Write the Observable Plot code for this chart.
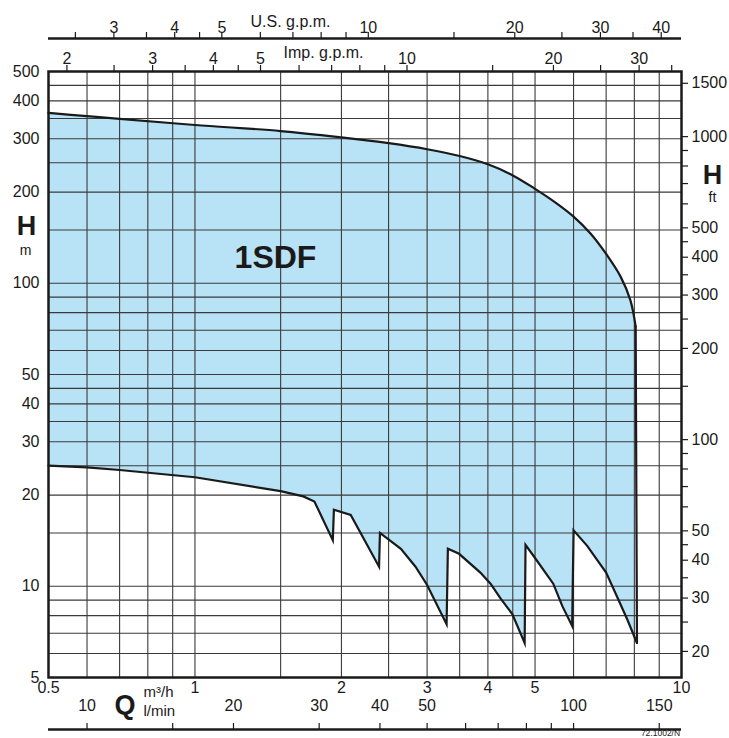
<!DOCTYPE html>
<html>
<head>
<meta charset="utf-8">
<script src="https://cdn.jsdelivr.net/npm/d3@7"></script>
<script src="https://cdn.jsdelivr.net/npm/@observablehq/plot@0.6"></script>
<style>
  html, body { margin: 0; padding: 0; background: #fff; }
  #chart { width: 729px; height: 738px; overflow: hidden; }
</style>
</head>
<body>
<div id="chart"></div>
<script>
// ---- Data ----
// Upper limit curve of the 1SDF range (Q in m³/h, H in m)
const upperQ = [0.5, 0.6, 0.7, 1.0, 1.5, 2.0, 2.5, 3.0, 3.5, 4.0, 4.5, 5.0, 5.5, 6.0, 6.5, 7.0, 7.5, 7.85, 8.05];
const upperH = [365, 356, 349, 333, 318, 303, 290, 277, 263, 247, 227, 205, 185, 166, 146, 125, 105, 88, 72];
// Lower limit (sawtooth) curve, left to right
const lowerQ = [0.5, 0.6, 0.7, 1.0, 1.5, 1.67, 1.76, 1.92, 1.93, 2.09, 2.39, 2.40, 2.65, 2.84, 3.0, 3.29, 3.31, 3.49, 3.86, 4.05, 4.25, 4.49, 4.76, 4.78, 5.0, 5.45, 5.69, 5.96, 6.0, 6.4, 7.0, 7.38, 7.73, 8.1];
const lowerH = [25.0, 24.7, 24.2, 22.9, 20.6, 19.8, 19.05, 14.2, 17.9, 17.2, 11.6, 15.0, 13.3, 11.6, 10.1, 7.5, 13.3, 12.8, 11.1, 10.2, 9.1, 8.1, 6.5, 13.7, 12.4, 10.2, 8.6, 7.4, 15.3, 13.6, 11.1, 9.2, 7.8, 6.5];

// Axis ticks / grid
const qLabels = [0.5, 1, 2, 3, 4, 5, 10];
const qGrid = [0.6, 0.7, 0.8, 0.9, 1, 1.5, 2, 2.5, 3, 3.5, 4, 4.5, 5, 6, 7, 8, 9];
const hGrid = [6, 7, 8, 9, 10, 15, 20, 25, 30, 35, 40, 45, 50, 60, 70, 80, 90, 100, 150, 200, 250, 300, 350, 400, 450];
const hLabels = [5, 10, 20, 30, 40, 50, 100, 200, 300, 400, 500];
const ftTicks = [20, 25, 30, 35, 40, 45, 50, 60, 70, 80, 90, 100, 150, 200, 250, 300, 350, 400, 450, 500, 600, 700, 800, 900, 1000, 1500];
const ftLabels = [20, 30, 40, 50, 100, 200, 300, 400, 500, 1000, 1500];
const usTicks = [2.5, 3, 3.5, 4, 4.5, 5, 6, 7, 8, 9, 10, 15, 20, 25, 30, 35, 40];
const usLabels = [3, 4, 5, 10, 20, 30, 40];
const impTicks = [2, 2.5, 3, 3.5, 4, 4.5, 5, 6, 7, 8, 9, 10, 15, 20, 25, 30, 35];
const impLabels = [2, 3, 4, 5, 10, 20, 30];
const lminTicks = [10, 15, 20, 30, 40, 50, 60, 70, 80, 90, 100, 150];
const lminLabels = [10, 20, 30, 40, 50, 100, 150];

// Unit conversions
const US_GPM_PER_M3H = 4.40287;
const IMP_GPM_PER_M3H = 3.66615;
const LMIN_PER_M3H = 1000 / 60;
const FT_PER_M = 3.28084;

const upper = upperQ.map((q, i) => ({q, h: upperH[i]}));
const lower = lowerQ.map((q, i) => ({q, h: lowerH[i]}));
const rightEdge = [lower[lower.length - 1], upper[upper.length - 1]];

const W = 729, H = 738;
const mL = 48, mR = 48, mT = 71, mB = 61;
const font = "'Liberation Sans', Arial, Helvetica, sans-serif";
const ink = "#1a1a1a";
const blue = "#b8e3f7";
const FS = 16;

function label(str, px, py, opts = {}) {
  return Plot.text([str], {
    frameAnchor: "top-left", dx: px - mL, dy: py - mT,
    textAnchor: "middle", lineAnchor: "middle",
    text: d => d, fontSize: FS, fill: ink, ...opts
  });
}

const chart = Plot.plot({
  width: W, height: H,
  marginLeft: mL, marginRight: mR, marginTop: mT, marginBottom: mB,
  style: {fontFamily: font, background: "#fff", color: ink},
  x: {type: "log", domain: [0.5, 10], axis: null},
  y: {type: "log", domain: [5, 500], axis: null},
  marks: [
    // filled operating range: blue under the upper curve, white under the lower curve
    Plot.areaY(upper, {x: "q", y1: 5, y2: "h", fill: blue, curve: "catmull-rom"}),
    Plot.areaY(lower, {x: "q", y1: 5, y2: "h", fill: "#fff", curve: "linear"}),
    // grid
    Plot.ruleX(qGrid, {x: d => d, stroke: "#3a3a3a", strokeWidth: 1.1}),
    Plot.ruleY(hGrid, {y: d => d, stroke: "#3a3a3a", strokeWidth: 1.1}),
    // curve outlines
    Plot.line(upper, {x: "q", y: "h", stroke: ink, strokeWidth: 2.2, curve: "catmull-rom"}),
    Plot.line(lower, {x: "q", y: "h", stroke: ink, strokeWidth: 2.2, curve: "linear",
      strokeLinejoin: "miter", strokeMiterlimit: 6}),
    Plot.line(rightEdge, {x: "q", y: "h", stroke: ink, strokeWidth: 2.2}),
    // frame
    Plot.frame({stroke: ink, strokeWidth: 2.5}),

    // bottom m³/h labels
    Plot.text(qLabels, {x: d => d, frameAnchor: "bottom", dy: 15, text: d => String(d), fontSize: FS, fill: ink}),
    // left H (m) labels
    Plot.text(hLabels, {y: d => d, frameAnchor: "left", dx: -9, textAnchor: "end", text: d => String(d), fontSize: FS, fill: ink}),
    // right H (ft) ticks and labels
    Plot.ruleY(ftTicks, {y: d => d / FT_PER_M, insetLeft: 633, insetRight: -7, stroke: ink, strokeWidth: 1.2}),
    Plot.text(ftLabels, {y: d => d / FT_PER_M, frameAnchor: "right", dx: 10, textAnchor: "start", text: d => String(d), fontSize: FS, fill: ink}),

    // Imp. g.p.m. axis on frame top
    Plot.ruleX(impTicks, {x: d => d / IMP_GPM_PER_M3H, insetTop: -6, insetBottom: 606, stroke: ink, strokeWidth: 1.2}),
    Plot.text(impLabels, {x: d => d / IMP_GPM_PER_M3H, frameAnchor: "top", dy: -19, text: d => String(d), fontSize: FS, fill: ink}),
    // U.S. g.p.m. axis above
    Plot.ruleY([500], {y: d => d, dy: -33, stroke: ink, strokeWidth: 2.5}),
    Plot.ruleX(usTicks, {x: d => d / US_GPM_PER_M3H, insetTop: -39, insetBottom: 639, stroke: ink, strokeWidth: 1.2}),
    Plot.text(usLabels, {x: d => d / US_GPM_PER_M3H, frameAnchor: "top", dy: -50, text: d => String(d), fontSize: FS, fill: ink}),

    // l/min axis below
    Plot.ruleY([5], {y: d => d, dy: 52, stroke: ink, strokeWidth: 2.5}),
    Plot.ruleX(lminTicks, {x: d => d / LMIN_PER_M3H, insetTop: 652, insetBottom: -52, stroke: ink, strokeWidth: 1.2}),
    Plot.text(lminLabels, {x: d => d / LMIN_PER_M3H, frameAnchor: "bottom", dy: 33.5, text: d => String(d), fontSize: FS, fill: ink}),

    // axis titles and annotations
    label("U.S. g.p.m.", 290, 21),
    label("Imp. g.p.m.", 323, 52),
    label("Q", 124.5, 705, {fontSize: 27, fontWeight: "bold"}),
    label("m³/h", 143, 692, {textAnchor: "start", fontSize: 15}),
    label("l/min", 143, 711, {textAnchor: "start", fontSize: 15}),
    label("H", 26, 226, {fontSize: 27, fontWeight: "bold"}),
    label("m", 25, 250, {fontSize: 14}),
    label("H", 712, 175, {fontSize: 27, fontWeight: "bold"}),
    label("ft", 712, 197, {fontSize: 14}),
    label("1SDF", 275, 257, {fontSize: 32, fontWeight: "bold"}),
    label("72.1002/N", 660, 733, {fontSize: 8.5})
  ]
});

document.getElementById("chart").appendChild(chart);
</script>
</body>
</html>
